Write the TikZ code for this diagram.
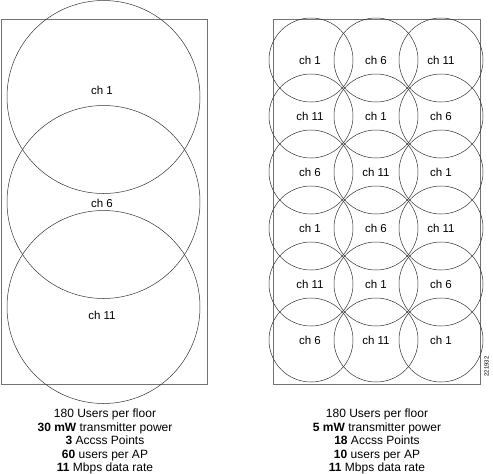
\documentclass[tikz,border=0pt]{standalone}
\usepackage{fontspec}
\setmainfont{Liberation Sans}
\begin{document}
\begin{tikzpicture}[x=1pt,y=-1pt,
  floor/.style={draw=black!55,line width=0.9pt},
  cell/.style={draw=black!80,line width=0.5pt},
  chlabel/.style={font=\fontsize{11.5}{13}\selectfont,inner sep=0pt},
  infotext/.style={font=\fontsize{12}{13.6}\selectfont,align=center,inner sep=0pt,anchor=north}]
\useasboundingbox (0,0) rectangle (493,474);
% left floor
\draw[floor] (1,19.5) rectangle (207,384);
\draw[cell] (103.5,97) circle (96.5);
\draw[cell] (103.5,202) circle (96.5);
\draw[cell] (103.5,307) circle (96.5);
\node[chlabel] (l1) at (102,90) {ch 1};
\node[chlabel] (l2) at (102,203) {ch 6};
\node[chlabel] (l3) at (102,315) {ch 11};
% right floor
\draw[floor] (273,19.5) rectangle (480,384);
\foreach \r/\a/\b/\c [count=\i] in {0/ch 1/ch 6/ch 11, 1/ch 11/ch 1/ch 6, 2/ch 6/ch 11/ch 1, 3/ch 1/ch 6/ch 11, 4/ch 11/ch 1/ch 6, 5/ch 6/ch 11/ch 1}{
  \pgfmathsetmacro{\yy}{60+56*\r}
  \draw[cell] (311,\yy) circle (42);
  \draw[cell] (376,\yy) circle (42);
  \draw[cell] (441,\yy) circle (42);
  \node[chlabel] (r\i a) at (310,\yy) {\a};
  \node[chlabel] (r\i b) at (376,\yy) {\b};
  \node[chlabel] (r\i c) at (441,\yy) {\c};
}
\node[font=\fontsize{6}{7}\selectfont,rotate=90,inner sep=0pt] (fig) at (486.5,366.5) {221932};
% captions
\node[infotext] (capl) at (105,408.5) {180 Users per floor\\
  \textbf{30 mW} transmitter power\\
  \textbf{3} Accss Points\\
  \textbf{60} users per AP\\
  \textbf{11} Mbps data rate};
\node[infotext] (capr) at (377,408.5) {180 Users per floor\\
  \textbf{5 mW} transmitter power\\
  \textbf{18} Accss Points\\
  \textbf{10} users per AP\\
  \textbf{11} Mbps data rate};
\end{tikzpicture}
\end{document}
